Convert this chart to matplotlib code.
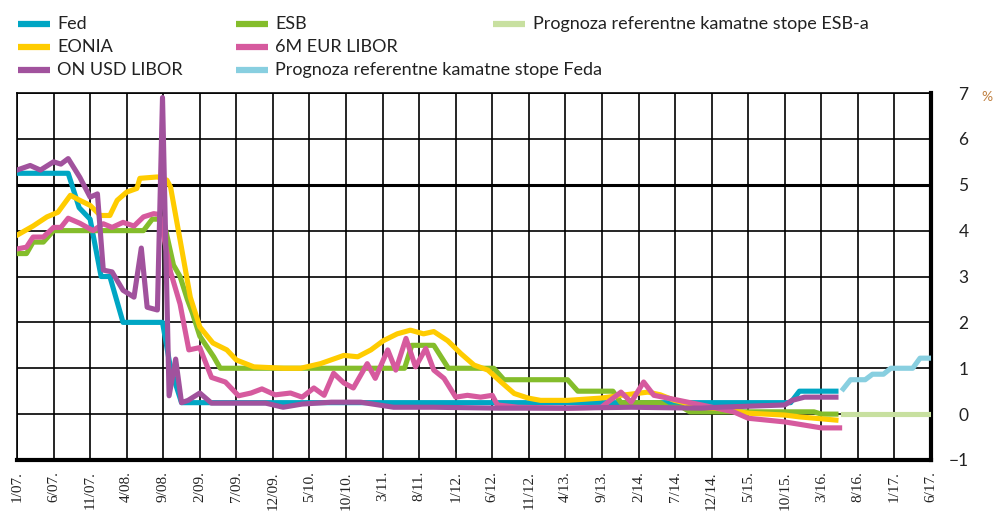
import matplotlib
matplotlib.use("Agg")
import matplotlib.pyplot as plt
from matplotlib.lines import Line2D

# ---------------- data (x = months since Jan 2007) ----------------
fed_x = [0, 7, 8.5, 10, 11.5, 12.7, 14.5, 19.9, 21, 22.5, 105.8, 107, 112]
fed_y = [5.25, 5.25, 4.5, 4.25, 3.0, 3.0, 2.0, 2.0, 1.0, 0.25, 0.25, 0.5, 0.5]

esb_x = [0, 1.3, 2.2, 3.6, 5, 17.3, 18.5, 20, 21.4, 22.3, 23.3, 24, 25, 26.9, 27.8,
         53, 54, 57, 59, 65.2, 66.6, 75.3, 76.7, 81.5, 82.6, 88, 89, 91, 92, 109, 110, 112]
esb_y = [3.5, 3.5, 3.75, 3.75, 4.0, 4.0, 4.25, 4.25, 3.25, 3.0, 2.5, 2.2, 1.7, 1.25, 1.0,
         1.0, 1.5, 1.5, 1.0, 1.0, 0.75, 0.75, 0.5, 0.5, 0.25, 0.25, 0.15, 0.15, 0.05, 0.05, 0.0, 0.0]

eonia_x = [0, 2.2, 4.1, 5.6, 7.3, 8.6, 10, 11.4, 12.7, 13.7, 15, 16.4, 16.8, 19.2, 20.5,
           21, 22.3, 23.7, 25, 26.8, 28.7, 30, 32.4, 36.5, 38.8, 41.5, 44.7, 46.6, 48.4,
           50.1, 52, 53.8, 55.6, 57, 58.9, 60.7, 62.5, 64.4, 66.2, 68, 69.9, 71.6, 75.3,
           79.9, 82.6, 86.3, 88, 89.9, 91, 93.6, 96, 100, 105, 107, 112]
eonia_y = [3.9, 4.1, 4.3, 4.4, 4.77, 4.66, 4.55, 4.33, 4.33, 4.66, 4.84, 4.92, 5.14, 5.17, 5.1,
           4.95, 3.8, 2.55, 1.9, 1.55, 1.4, 1.18, 1.03, 1.0, 1.0, 1.1, 1.28, 1.25, 1.4,
           1.6, 1.75, 1.83, 1.75, 1.8, 1.6, 1.32, 1.07, 0.96, 0.7, 0.45, 0.35, 0.3, 0.3,
           0.35, 0.41, 0.48, 0.42, 0.3, 0.26, 0.15, 0.12, 0.02, -0.02, -0.06, -0.13]

eur6m_x = [0, 1.3, 2.2, 3.6, 5, 6, 7, 8.6, 10.4, 11.8, 13, 14.5, 16, 17.3, 18.7, 19.5,
           21, 22.3, 23.5, 25, 26.6, 28.5, 30.3, 32, 33.5, 35.3, 37.4, 39, 40.6, 42,
           43.3, 44.7, 46, 47.9, 49, 50.7, 51.8, 53.2, 54.5, 55.9, 57, 58.4, 60, 61.6,
           63.4, 65, 65.7, 68.5, 75.3, 79.9, 82.6, 84, 85.7, 87.1, 89, 93.6, 98, 100,
           105, 107.7, 110, 112.5]
eur6m_y = [3.6, 3.64, 3.86, 3.86, 4.07, 4.07, 4.27, 4.16, 4.0, 4.15, 4.07, 4.18, 4.1, 4.3, 4.37, 4.35,
           3.1, 2.4, 1.4, 1.45, 0.8, 0.7, 0.4, 0.46, 0.55, 0.42, 0.46, 0.37, 0.57, 0.41,
           0.89, 0.68, 0.57, 1.1, 0.78, 1.4, 0.96, 1.65, 1.03, 1.43, 0.96, 0.78, 0.37, 0.41,
           0.37, 0.41, 0.2, 0.15, 0.13, 0.15, 0.48, 0.26, 0.7, 0.41, 0.35, 0.2, 0.05, -0.09,
           -0.17, -0.24, -0.3, -0.3]

usd_on_x = [0, 1.8, 3.2, 5, 6, 7, 8.6, 10, 11, 11.8, 13, 14.5, 16, 17, 17.8, 19.2, 19.9,
            20.8, 21.7, 22.5, 23.4, 25, 26.6, 30, 34, 36.4, 39, 43, 47, 51.5, 57, 66, 75,
            84, 93.6, 96, 105, 106, 107.7, 112]
usd_on_y = [5.32, 5.42, 5.32, 5.5, 5.45, 5.57, 5.16, 4.73, 4.8, 3.14, 3.1, 2.7, 2.55, 3.62, 2.33, 2.27, 6.9,
            0.4, 1.2, 0.25, 0.3, 0.46, 0.24, 0.24, 0.24, 0.15, 0.22, 0.26, 0.26, 0.15, 0.15, 0.13, 0.13,
            0.15, 0.13, 0.15, 0.2, 0.3, 0.37, 0.37]

fed_fc_x = [113, 114, 116, 117, 118.5, 119.5, 122.5, 123.5, 125]
fed_fc_y = [0.55, 0.75, 0.75, 0.87, 0.87, 1.0, 1.0, 1.22, 1.22]

esb_fc_x = [113, 125]
esb_fc_y = [0.0, 0.0]

tick_months = list(range(0, 126, 5))
tick_labels = ["1/07.", "6/07.", "11/07.", "4/08.", "9/08.", "2/09.", "7/09.", "12/09.",
               "5/10.", "10/10.", "3/11.", "8/11.", "1/12.", "6/12.", "11/12.", "4/13.",
               "9/13.", "2/14.", "7/14.", "12/14.", "5/15.", "10/15.", "3/16.", "8/16.",
               "1/17.", "6/17."]
y_ticks = [7, 6, 5, 4, 3, 2, 1, 0, -1]
y_labels = ["7", "6", "5", "4", "3", "2", "1", "0", "\u22121"]

series_names = ["Fed", "EONIA", "ON USD LIBOR", "ESB", "6M EUR LIBOR",
                "Prognoza referentne kamatne stope Feda",
                "Prognoza referentne kamatne stope ESB-a"]

# ---------------- style ----------------
C_FED = "#00a6c4"
C_EONIA = "#ffcc00"
C_USD = "#a1529d"
C_ESB = "#84bd2b"
C_EUR = "#d65a9e"
C_FEDFC = "#88cfe0"
C_ESBFC = "#c8e0a0"
LW = 3.7
SANS = ["Lato", "DejaVu Sans"]

W, H = 994, 515
fig = plt.figure(figsize=(W / 100, H / 100), dpi=100)
ax = fig.add_axes([17 / W, (H - 460) / H, (931 - 17) / W, (460 - 93) / H])

ax.plot(fed_x, fed_y, color=C_FED, lw=LW, solid_joinstyle="round", zorder=3)
ax.plot(esb_x, esb_y, color=C_ESB, lw=LW, solid_joinstyle="round", zorder=3)
ax.plot(eonia_x, eonia_y, color=C_EONIA, lw=LW, solid_joinstyle="round", zorder=4)
ax.plot(eur6m_x, eur6m_y, color=C_EUR, lw=LW, solid_joinstyle="round", zorder=5)
ax.plot(usd_on_x, usd_on_y, color=C_USD, lw=LW, solid_joinstyle="round", zorder=6)
ax.plot(fed_fc_x, fed_fc_y, color=C_FEDFC, lw=LW, solid_joinstyle="round", zorder=3)
ax.plot(esb_fc_x, esb_fc_y, color=C_ESBFC, lw=LW, zorder=3)

ax.set_xlim(0, 125)
ax.set_ylim(-1, 7)
ax.set_xticks(tick_months)
ax.set_xticklabels(tick_labels, rotation=90, fontfamily="Liberation Serif",
                   fontsize=11, color="#222222")
ax.yaxis.tick_right()
ax.set_yticks(y_ticks)
ax.set_yticklabels(y_labels, ha="right", fontfamily=SANS,
                   fontsize=12.5, color="#222222")
ax.tick_params(axis="x", length=0, pad=8)
ax.tick_params(axis="y", length=0, pad=27)
ax.grid(True, color="black", lw=1.2, zorder=1)
ax.set_axisbelow(True)
ax.axhline(5, color="black", lw=2.2, zorder=2)
for side, lw in [("top", 1.2), ("left", 1.2), ("right", 3.0), ("bottom", 3.0)]:
    ax.spines[side].set_linewidth(lw)
    ax.spines[side].set_color("black")

fig.text(993 / W, 1 - 97 / H, "%", fontsize=10, color="#c08040",
         ha="right", va="center", family=SANS)

# ---------------- legend (manual, three columns) ----------------
colors = [C_FED, C_EONIA, C_USD, C_ESB, C_EUR, C_FEDFC, C_ESBFC]
cols_x = [(18, 50, 57), (18, 50, 57), (18, 50, 57),
          (236, 268, 275), (236, 268, 275), (236, 268, 275),
          (493, 525, 533)]
rows_y = [24, 47, 70, 24, 47, 70, 24]
for name, col, (x0, x1, xt), yy in zip(series_names, colors, cols_x, rows_y):
    fy = 1 - yy / H
    fig.add_artist(Line2D([x0 / W, x1 / W], [fy, fy], color=col, lw=4.5,
                          solid_capstyle="butt", transform=fig.transFigure))
    fig.text(xt / W, fy, name, fontsize=13, color="#222222", va="center", ha="left",
             family=SANS)

fig.savefig("out.png", dpi=100)
